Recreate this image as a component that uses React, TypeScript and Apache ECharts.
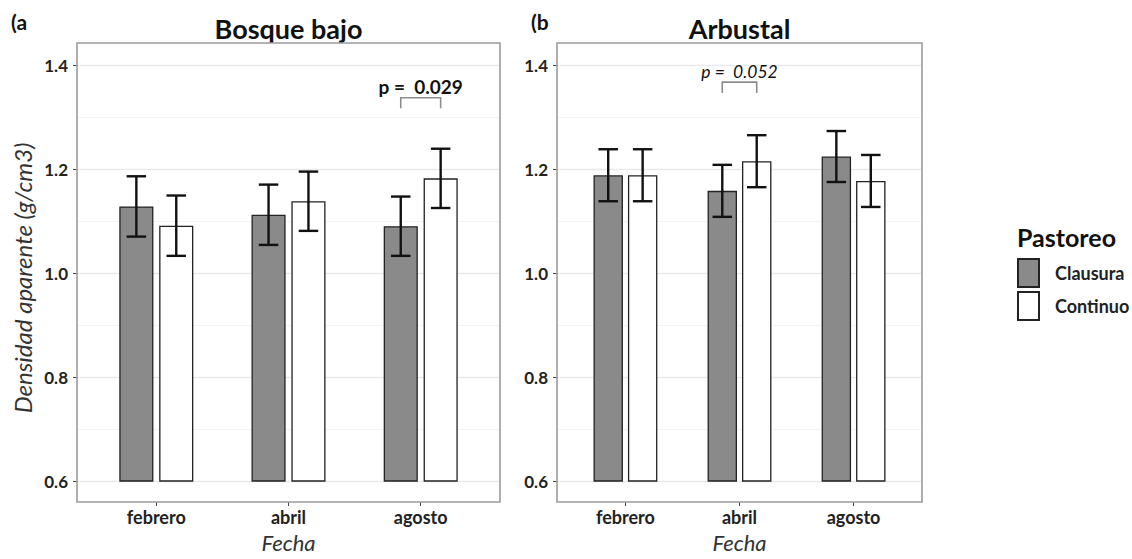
import React, { useEffect, useRef } from "react";
import * as echarts from "echarts";

// Sampling dates and grazing treatments
const months = ["febrero", "abril", "agosto"];
const treatments = ["Clausura", "Continuo"];
const panelTitles = ["Bosque bajo", "Arbustal"];
const panelTags = ["(a", "(b"];
const yTicks = [0.6, 1.4, 0.2]; // min, max, step

// Bulk density (g/cm3), mean and error half-width — Bosque bajo
const bosqueClausura = [1.128, 1.112, 1.09];
const bosqueClausuraErr = [0.058, 0.058, 0.057];
const bosqueContinuo = [1.091, 1.138, 1.182];
const bosqueContinuoErr = [0.058, 0.057, 0.057];

// Arbustal
const arbustalClausura = [1.188, 1.158, 1.224];
const arbustalClausuraErr = [0.05, 0.05, 0.049];
const arbustalContinuo = [1.188, 1.215, 1.177];
const arbustalContinuoErr = [0.05, 0.05, 0.05];

// Pairwise comparisons drawn above the bars (one per panel)
const pLabels = ["p =  0.029", "p =  0.052"];
const pMonth = [2, 1];
const pBracketTop = [1.337, 1.367];
const pBracketFoot = [1.317, 1.346];
const pLabelY = [1.358, 1.387];

const FONT = "Lato, 'Open Sans', sans-serif";
const FILL = ["#8a8a8a", "#ffffff"];
const BAR_W = 0.258; // share of category band
const BAR_GAP = 0.17; // share of bar width
const DODGE = (BAR_W + BAR_W * BAR_GAP) / 2;
const CAP = 19.5;

// Panel frames (outer) and data regions (inner, 0.6..1.4 and first..last category)
const panels = [
  { x: 77, y: 43, w: 423, h: 459, gl: 90.2, gw: 396.6 },
  { x: 557, y: 43, w: 365, h: 459, gl: 568.4, gw: 342.2 },
];
const DATA_TOP = 65;
const DATA_H = 416;

const meanSets = [
  [bosqueClausura, bosqueContinuo],
  [arbustalClausura, arbustalContinuo],
];
const errSets = [
  [bosqueClausuraErr, bosqueContinuoErr],
  [arbustalClausuraErr, arbustalContinuoErr],
];

function buildOption() {
  const grid: any[] = [];
  const xAxis: any[] = [];
  const yAxis: any[] = [];
  const series: any[] = [];
  const graphic: any[] = [];

  panels.forEach((p, i) => {
    const bgIdx = i * 2;
    const dataIdx = i * 2 + 1;
    // background grid: gridlines and y labels across the whole panel width
    grid.push({ left: p.x, top: DATA_TOP, width: p.w, height: DATA_H, containLabel: false });
    // data grid: category bands
    grid.push({ left: p.gl, top: DATA_TOP, width: p.gw, height: DATA_H, containLabel: false });

    xAxis.push({ gridIndex: bgIdx, type: "value", show: false, min: 0, max: 1 });
    xAxis.push({
      gridIndex: dataIdx,
      type: "category",
      data: months,
      offset: p.y + p.h - (DATA_TOP + DATA_H),
      axisLine: { show: false },
      axisTick: { show: true, length: 4, alignWithLabel: true, lineStyle: { color: "#444", width: 1 } },
      axisLabel: { color: "#222", fontFamily: FONT, fontWeight: "bold", fontSize: 18, margin: 6 },
      name: "Fecha",
      nameLocation: "middle",
      nameGap: 29,
      nameTextStyle: { fontFamily: FONT, fontStyle: "italic", fontSize: 22, color: "#333" },
    });

    yAxis.push({
      gridIndex: bgIdx,
      type: "value",
      min: yTicks[0],
      max: yTicks[1],
      interval: yTicks[2],
      offset: 0,
      axisLine: { show: false },
      axisTick: { show: true, length: 4, lineStyle: { color: "#444", width: 1 } },
      minorTick: { show: false, splitNumber: 2 },
      axisLabel: {
        color: "#222",
        fontFamily: FONT,
        fontWeight: "bold",
        fontSize: 17,
        margin: 9,
        formatter: (v: number) => v.toFixed(1),
      },
      splitLine: { show: true, lineStyle: { color: "#e9e9e9", width: 1.3 } },
      minorSplitLine: { show: true, lineStyle: { color: "#f3f3f3", width: 1 } },
      name: i === 0 ? "Densidad aparente (g/cm3)" : "",
      nameLocation: "middle",
      nameGap: 43,
      nameTextStyle: { fontFamily: FONT, fontStyle: "italic", fontSize: 24, color: "#333", padding: [0, 10, 0, 0] },
    });
    yAxis.push({
      gridIndex: dataIdx,
      type: "value",
      min: yTicks[0],
      max: yTicks[1],
      show: false,
      splitLine: { show: false },
    });

    treatments.forEach((t, k) => {
      series.push({
        type: "bar",
        name: t,
        xAxisIndex: dataIdx,
        yAxisIndex: dataIdx,
        data: meanSets[i][k],
        barWidth: `${BAR_W * 100}%`,
        barGap: `${BAR_GAP * 100}%`,
        itemStyle: { color: FILL[k], borderColor: "#222", borderWidth: 1.3 },
        z: 2,
      });
    });

    const errData: number[][] = [];
    treatments.forEach((_, k) => {
      meanSets[i][k].forEach((m, j) => errData.push([j, m, errSets[i][k][j], k]));
    });
    series.push({
      type: "custom",
      xAxisIndex: dataIdx,
      yAxisIndex: dataIdx,
      data: errData,
      z: 4,
      silent: true,
      renderItem: (_params: any, api: any) => {
        const cat = api.value(0);
        const mean = api.value(1);
        const err = api.value(2);
        const which = api.value(3);
        const band = api.size([1, 0])[0];
        const shift = (which === 0 ? -1 : 1) * band * DODGE;
        const hi = api.coord([cat, mean + err]);
        const lo = api.coord([cat, mean - err]);
        const x = hi[0] + shift;
        const st = { stroke: "#111", lineWidth: 2.4 };
        return {
          type: "group",
          children: [
            { type: "line", shape: { x1: x, y1: hi[1], x2: x, y2: lo[1] }, style: st },
            { type: "line", shape: { x1: x - CAP / 2, y1: hi[1], x2: x + CAP / 2, y2: hi[1] }, style: st },
            { type: "line", shape: { x1: x - CAP / 2, y1: lo[1], x2: x + CAP / 2, y2: lo[1] }, style: st },
          ],
        };
      },
    });

    series.push({
      type: "custom",
      xAxisIndex: dataIdx,
      yAxisIndex: dataIdx,
      data: [[pMonth[i], pBracketTop[i], pBracketFoot[i], pLabelY[i]]],
      z: 5,
      silent: true,
      clip: false,
      renderItem: (_params: any, api: any) => {
        const cat = api.value(0);
        const band = api.size([1, 0])[0];
        const top = api.coord([cat, api.value(1)]);
        const foot = api.coord([cat, api.value(2)]);
        const lab = api.coord([cat, api.value(3)]);
        const xl = top[0] - band * DODGE;
        const xr = top[0] + band * DODGE;
        return {
          type: "group",
          children: [
            {
              type: "polyline",
              shape: { points: [[xl, foot[1]], [xl, top[1]], [xr, top[1]], [xr, foot[1]]] },
              style: { stroke: "#8c8c8c", lineWidth: 1.6, fill: null },
            },
            {
              type: "text",
              x: lab[0],
              y: lab[1],
              style: {
                text: pLabels[i],
                align: "center",
                verticalAlign: "middle",
                fontFamily: FONT,
                fontSize: i === 0 ? 19 : 17.5,
                fontWeight: i === 0 ? "bold" : "normal",
                fontStyle: i === 0 ? "normal" : "italic",
                fill: "#111",
              },
            },
          ],
        };
      },
    });

    // panel frame
    graphic.push({
      type: "rect",
      shape: { x: p.x, y: p.y, width: p.w, height: p.h },
      style: { fill: null, stroke: "#9c9c9c", lineWidth: 1.6 },
      z: 10,
      silent: true,
    });
    // panel title
    graphic.push({
      type: "text",
      x: p.x + p.w / 2,
      y: 28,
      style: {
        text: panelTitles[i],
        align: "center",
        verticalAlign: "middle",
        fontFamily: FONT,
        fontSize: 27,
        fontWeight: "bold",
        fill: "#111",
      },
    });
    // panel tag
    graphic.push({
      type: "text",
      x: i === 0 ? 11 : 531,
      y: 21,
      style: {
        text: panelTags[i],
        align: "left",
        verticalAlign: "middle",
        fontFamily: FONT,
        fontSize: 21,
        fontWeight: "bold",
        fill: "#111",
      },
    });
  });

  // legend title
  graphic.push({
    type: "text",
    x: 1017,
    y: 237,
    style: {
      text: "Pastoreo",
      align: "left",
      verticalAlign: "middle",
      fontFamily: FONT,
      fontSize: 25,
      fontWeight: "bold",
      fill: "#111",
    },
  });

  return {
    animation: false,
    backgroundColor: "#ffffff",
    grid,
    xAxis,
    yAxis,
    series,
    graphic,
    legend: {
      data: treatments,
      orient: "vertical",
      left: 1017,
      top: 258,
      padding: 0,
      itemWidth: 21,
      itemHeight: 28,
      itemGap: 3,
      icon: "rect",
      selectedMode: false,
      textStyle: { fontFamily: FONT, fontWeight: "bold", fontSize: 18, color: "#222", padding: [0, 0, 0, 11] },
    },
  };
}

export default function App() {
  const ref = useRef<HTMLDivElement>(null);
  useEffect(() => {
    if (!ref.current) return;
    const chart = echarts.init(ref.current, undefined, { renderer: "svg" });
    chart.setOption(buildOption() as any);
    return () => chart.dispose();
  }, []);
  return (
    <div
      ref={ref}
      style={{ position: "fixed", left: 0, top: 0, width: 1132, height: 559, background: "#fff" }}
    />
  );
}
